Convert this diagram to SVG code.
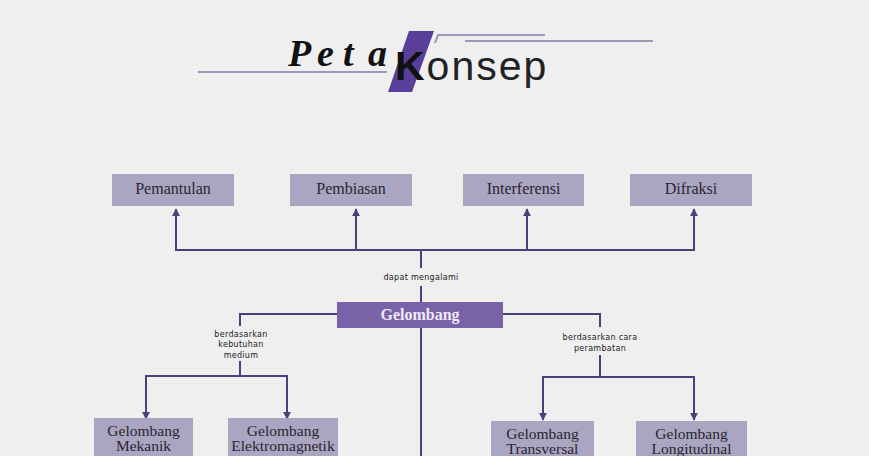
<svg xmlns="http://www.w3.org/2000/svg" width="869" height="456" viewBox="0 0 869 456">
<defs>
<style>
.box{fill:#aaa5c1}
.main{fill:#7a62a8}
.lbl{font-family:"Liberation Serif",serif;font-size:16px;fill:#2a2530;text-anchor:middle}
.lbl2{font-family:"Liberation Serif",serif;font-size:15.5px;fill:#2a2530;text-anchor:middle}
.mlbl{font-family:"Liberation Serif",serif;font-size:16px;font-weight:bold;fill:#eeeaf6;text-anchor:middle}
.small{font-family:"DejaVu Sans",sans-serif;font-size:8px;fill:#222;text-anchor:middle;letter-spacing:0.3px}
.conn{fill:none;stroke:#4e3f7b;stroke-width:2}
.tl{stroke:#9d97b8;stroke-width:2;fill:none}
</style>
<marker id="ah" viewBox="0 0 10 10" refX="9" refY="5" markerWidth="8" markerHeight="8" markerUnits="userSpaceOnUse" orient="auto">
<path d="M0,0 L10,5 L0,10 z" fill="#4e3f7b"/>
</marker>
</defs>
<rect width="869" height="456" fill="#efefef"/>

<g id="title">
<line class="tl" x1="198" y1="72" x2="387" y2="72"/>
<path class="tl" d="M435,43 L438,35 H545"/>
<line class="tl" x1="465" y1="41" x2="653" y2="41"/>
<polygon points="409,31 434,31 412,92 388,92" fill="#5a3f9a"/>
<g font-family="Liberation Serif,serif" font-style="italic" font-weight="bold" font-size="38" fill="#111">
<text x="288" y="66">P</text>
<text x="317" y="66">e</text>
<text x="343" y="66">t</text>
<text x="368" y="66">a</text>
</g>
<text x="395" y="80" font-family="Liberation Sans,sans-serif" font-size="41" fill="#222" letter-spacing="2"><tspan font-weight="bold" fill="#111">K</tspan>onsep</text>
</g>

<g id="connectors">
<path class="conn" d="M421,250 H176 V209" marker-end="url(#ah)"/>
<path class="conn" d="M421,250 H356 V209" marker-end="url(#ah)"/>
<path class="conn" d="M421,250 H527 V209" marker-end="url(#ah)"/>
<path class="conn" d="M421,250 H694 V209" marker-end="url(#ah)"/>
<path class="conn" d="M421,250 V268"/>
<path class="conn" d="M421,286 V302"/>
<path class="conn" d="M337,314 H240 V326"/>
<path class="conn" d="M240,361 V376 H146 V419" marker-end="url(#ah)"/>
<path class="conn" d="M240,376 H287 V419" marker-end="url(#ah)"/>
<path class="conn" d="M503,314 H600 V327"/>
<path class="conn" d="M600,355 V377 H543 V420" marker-end="url(#ah)"/>
<path class="conn" d="M600,377 H694 V420" marker-end="url(#ah)"/>
<path class="conn" d="M421,328 V456"/>
<text class="small" x="421" y="280">dapat mengalami</text>
<text class="small" x="241" y="337">berdasarkan</text>
<text class="small" x="241" y="347">kebutuhan</text>
<text class="small" x="241" y="358">medium</text>
<text class="small" x="600" y="340">berdasarkan cara</text>
<text class="small" x="600" y="351">perambatan</text>
</g>

<g id="pemantulan"><rect class="box" x="112" y="174" width="122" height="32"/><text class="lbl" x="173" y="194">Pemantulan</text></g>
<g id="pembiasan"><rect class="box" x="290" y="174" width="122" height="32"/><text class="lbl" x="351" y="194">Pembiasan</text></g>
<g id="interferensi"><rect class="box" x="463" y="174" width="121" height="32"/><text class="lbl" x="523.5" y="194">Interferensi</text></g>
<g id="difraksi"><rect class="box" x="630" y="174" width="122" height="32"/><text class="lbl" x="691" y="194">Difraksi</text></g>

<g id="gelombang"><rect class="main" x="337" y="302" width="166" height="26"/><text class="mlbl" x="420" y="320">Gelombang</text></g>

<g id="mekanik"><rect class="box" x="94" y="418" width="99" height="50"/><text class="lbl2" x="143.5" y="436">Gelombang</text><text class="lbl2" x="143.5" y="451">Mekanik</text></g>
<g id="elektromagnetik"><rect class="box" x="228" y="418" width="110" height="50"/><text class="lbl2" x="283" y="436">Gelombang</text><text class="lbl2" x="283" y="451">Elektromagnetik</text></g>
<g id="transversal"><rect class="box" x="491" y="421" width="103" height="50"/><text class="lbl2" x="542.5" y="439">Gelombang</text><text class="lbl2" x="542.5" y="454">Transversal</text></g>
<g id="longitudinal"><rect class="box" x="636" y="421" width="111" height="50"/><text class="lbl2" x="691.5" y="439">Gelombang</text><text class="lbl2" x="691.5" y="454">Longitudinal</text></g>
</svg>
